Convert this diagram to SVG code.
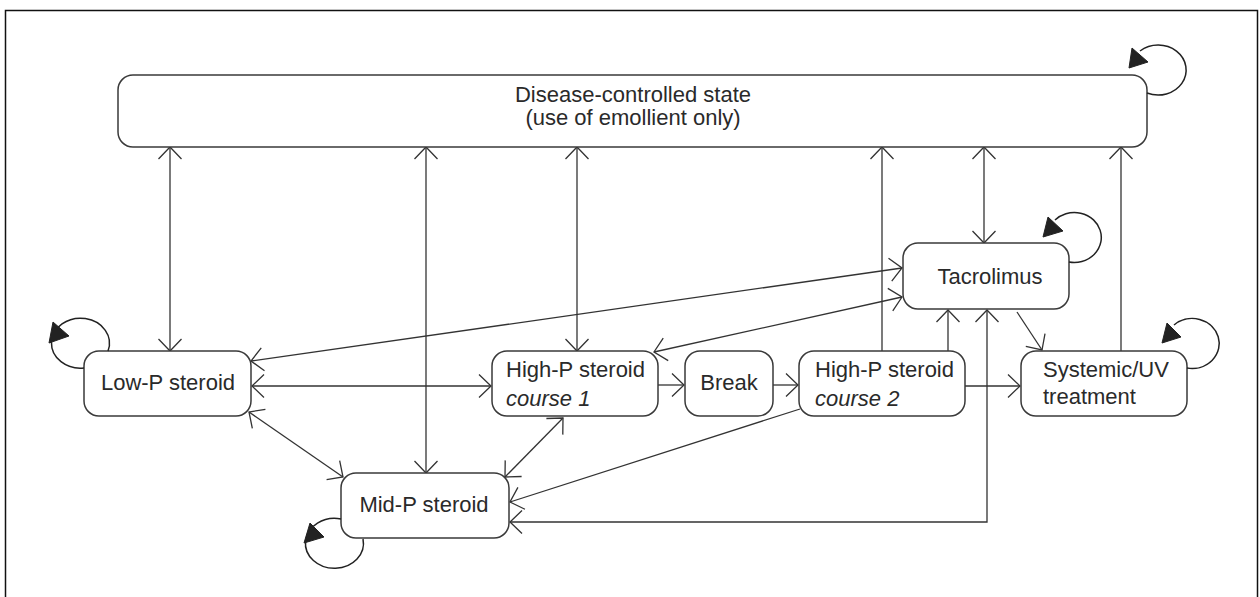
<svg xmlns="http://www.w3.org/2000/svg" width="1260" height="597" viewBox="0 0 1260 597">
<defs>
<marker id="ar" markerUnits="userSpaceOnUse" viewBox="0 0 16 26" markerWidth="16" markerHeight="26" refX="13" refY="13" orient="auto-start-reverse" overflow="visible">
<path d="M1,1.5 L13,13 L1,24.5" fill="none" stroke="#333" stroke-width="1.3"/>
</marker>
</defs>
<style>
.box{fill:#fff;stroke:#3a3a3a;stroke-width:1.5}
.t{font-family:"Liberation Sans",Arial,sans-serif;font-size:22px;fill:#2a2a2a}
.c{text-anchor:middle}
.i{font-style:italic}
.ln{fill:none;stroke:#333;stroke-width:1.3}
.b{marker-start:url(#ar);marker-end:url(#ar)}
.e{marker-end:url(#ar)}
.loop{fill:none;stroke:#222;stroke-width:1.5}
.head{fill:#222;stroke:#222;stroke-width:1}
</style>
<rect x="5.5" y="10.5" width="1252" height="600" fill="#fff" stroke="#111" stroke-width="1.5"/>

<g id="connectors">
<path class="ln b" d="M170,147 V351"/>
<path class="ln b" d="M426,147 V473"/>
<path class="ln b" d="M577,147 V351"/>
<path class="ln e" d="M882,351 V147"/>
<path class="ln b" d="M984,147 V243"/>
<path class="ln e" d="M1121,351 V147"/>
<path class="ln b" d="M251,361 L902,268"/>
<path class="ln b" d="M654,352 L902,297"/>
<path class="ln b" d="M252,386 H491"/>
<path class="ln e" d="M658,385 H684"/>
<path class="ln e" d="M773,385 H798"/>
<path class="ln e" d="M965,386 H1020"/>
<path class="ln e" d="M948,351 V310"/>
<path class="ln e" d="M1017,312 L1042,350"/>
<path class="ln b" d="M510,522 H987 V310"/>
<path class="ln e" d="M800,409 L510,502"/>
<path class="ln b" d="M563,418 L505,477"/>
<path class="ln b" d="M249,412 L343,477"/>
</g>

<g id="disease-controlled">
<rect class="box" x="118" y="75" width="1029" height="72" rx="15"/>
<text class="t c" x="633" y="102">Disease-controlled state</text>
<text class="t c" x="633" y="125">(use of emollient only)</text>
<path class="loop" d="M1147,93 A28,25 0 1 0 1140,51"/>
<polygon class="head" points="1129,68 1148,62 1132,48"/>
</g>

<g id="tacrolimus">
<rect class="box" x="903" y="243" width="166" height="66" rx="15"/>
<text class="t c" x="990" y="284">Tacrolimus</text>
<path class="loop" d="M1069,262 A27,25 0 1 0 1055,220"/>
<polygon class="head" points="1043,237 1063,231 1048,217"/>
</g>

<g id="low-p">
<rect class="box" x="84" y="351" width="167" height="65" rx="15"/>
<text class="t c" x="168" y="390">Low-P steroid</text>
<path class="loop" d="M108,351 A29,25 0 1 0 84,368"/>
<polygon class="head" points="49,343 69,336 53,322"/>
</g>

<g id="high-p-1">
<rect class="box" x="492" y="351" width="166" height="65" rx="15"/>
<text class="t" x="506" y="377">High-P steroid</text>
<text class="t i" x="506" y="406">course 1</text>
</g>

<g id="break">
<rect class="box" x="685" y="351" width="88" height="65" rx="15"/>
<text class="t c" x="729" y="390">Break</text>
</g>

<g id="high-p-2">
<rect class="box" x="799" y="351" width="166" height="65" rx="15"/>
<text class="t" x="815" y="377">High-P steroid</text>
<text class="t i" x="815" y="406">course 2</text>
</g>

<g id="systemic">
<rect class="box" x="1021" y="351" width="166" height="65" rx="15"/>
<text class="t" x="1043" y="377">Systemic/UV</text>
<text class="t" x="1043" y="404">treatment</text>
<path class="loop" d="M1187,368 A27,25 0 1 0 1174,325"/>
<polygon class="head" points="1162,343 1181,337 1167,323"/>
</g>

<g id="mid-p">
<rect class="box" x="341" y="473" width="168" height="65" rx="15"/>
<text class="t c" x="424" y="512">Mid-P steroid</text>
<path class="loop" d="M341,519 A29,25 0 1 0 363,539"/>
<polygon class="head" points="304,543 324,537 310,523"/>
</g>
</svg>
